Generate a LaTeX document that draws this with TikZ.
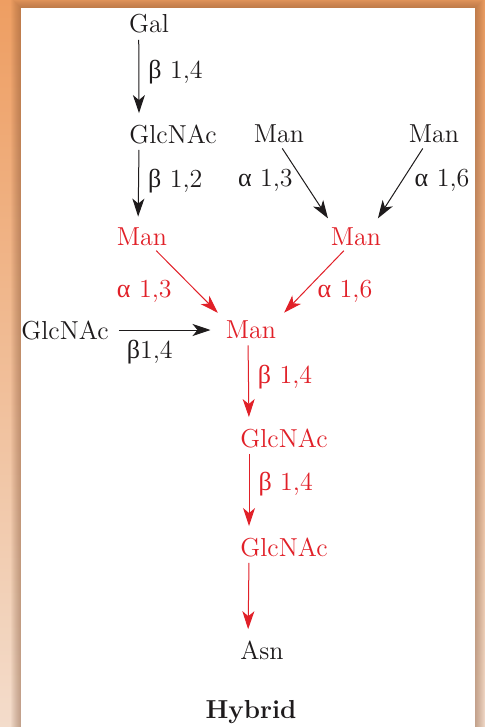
\documentclass[tikz,border=0pt]{standalone}
\usepackage{fontspec}
\newfontfamily\grk{Liberation Serif}
\usetikzlibrary{arrows.meta}
\definecolor{sugarred}{RGB}{225,32,40}
\definecolor{inkblack}{RGB}{30,27,28}
\definecolor{frametop}{RGB}{238,158,98}
\definecolor{framebot}{RGB}{243,220,203}
\definecolor{frameshade}{RGB}{120,70,40}
\begin{document}
\begin{tikzpicture}[x=0.5pt,y=-0.5pt,
	sugar/.style={inner sep=0pt,text=inkblack,font=\fontsize{13}{15}\selectfont},
	core/.style={sugar,text=sugarred},
	bond/.style={draw=inkblack,line width=0.5pt,-{Stealth[length=9pt,width=6pt,inset=2.5pt]},shorten <=3pt,shorten >=5.5pt},
	corebond/.style={bond,draw=sugarred},
	lbl/.style={inner sep=0pt,text=inkblack,font=\fontsize{13}{15}\selectfont},
	corelbl/.style={lbl,text=sugarred}]
	\useasboundingbox (0,0) rectangle (485,727);
	\shade[top color=frametop,bottom color=framebot] (0,0) rectangle (485,727);
	\foreach \d in {1,...,10}
		\fill[frameshade,opacity=0.045] (21-\d,8-\d) rectangle (475+\d,727);
	\fill[white] (21,8) rectangle (475,727);
	\node[sugar] (gal) at (149,24) {Gal};
	\node[sugar] (glcA) at (173,134) {GlcNAc};
	\node[sugar] (manB) at (279,134) {Man};
	\node[sugar] (manC) at (434,134) {Man};
	\node[core] (manL) at (142,237) {Man};
	\node[core] (manR) at (356,237) {Man};
	\node[sugar] (glcL) at (65,330) {GlcNAc};
	\node[core] (manX) at (251,330) {Man};
	\node[core] (glcX) at (284,438) {GlcNAc};
	\node[core] (glcY) at (284,547) {GlcNAc};
	\node[sugar] (asn) at (262,650) {Asn};
	\node[sugar,font=\fontsize{13}{15}\selectfont\bfseries] (title) at (251,712) {Hybrid};
	\draw[bond] ([xshift=5pt]gal.south west) -- node[lbl,pos=0.42,right=4.5pt] {{\grk β} 1,4} ([xshift=5pt]glcA.north west);
	\draw[bond] ([xshift=5pt]glcA.south west) -- node[lbl,pos=0.44,right=4.5pt] {{\grk β} 1,2} ([xshift=-2pt]manL.north);
	\draw[bond] (manB.south) -- node[lbl,pos=0.44,left=5pt] {{\grk α} 1,3} ([xshift=-11pt]manR.north);
	\draw[bond] ([xshift=-4pt]manC.south) -- node[lbl,pos=0.44,right=6pt] {{\grk α} 1,6} ([xshift=8pt]manR.north);
	\draw[corebond] ([xshift=5pt]manL.south) -- node[corelbl,pos=0.6,left=12pt] {{\grk α} 1,3} (manX.north west);
	\draw[corebond] ([xshift=-4pt]manR.south) -- node[corelbl,pos=0.6,right=6pt] {{\grk α} 1,6} (manX.north east);
	\draw[bond,shorten <=5pt,shorten >=7.5pt] (glcL) -- node[lbl,pos=0.35,below=5pt] {{\grk β}1,4} (manX);
	\draw[corebond] ([xshift=-1.5pt]manX.south) -- node[corelbl,pos=0.42,right=4.5pt] {{\grk β} 1,4} ([xshift=4.5pt]glcX.north west);
	\draw[corebond] ([xshift=4.5pt]glcX.south west) -- node[corelbl,pos=0.41,right=4.5pt] {{\grk β} 1,4} ([xshift=4.5pt]glcY.north west);
	\draw[corebond] ([xshift=4.5pt]glcY.south west) -- ([xshift=-7pt]asn.north);
\end{tikzpicture}
\end{document}
